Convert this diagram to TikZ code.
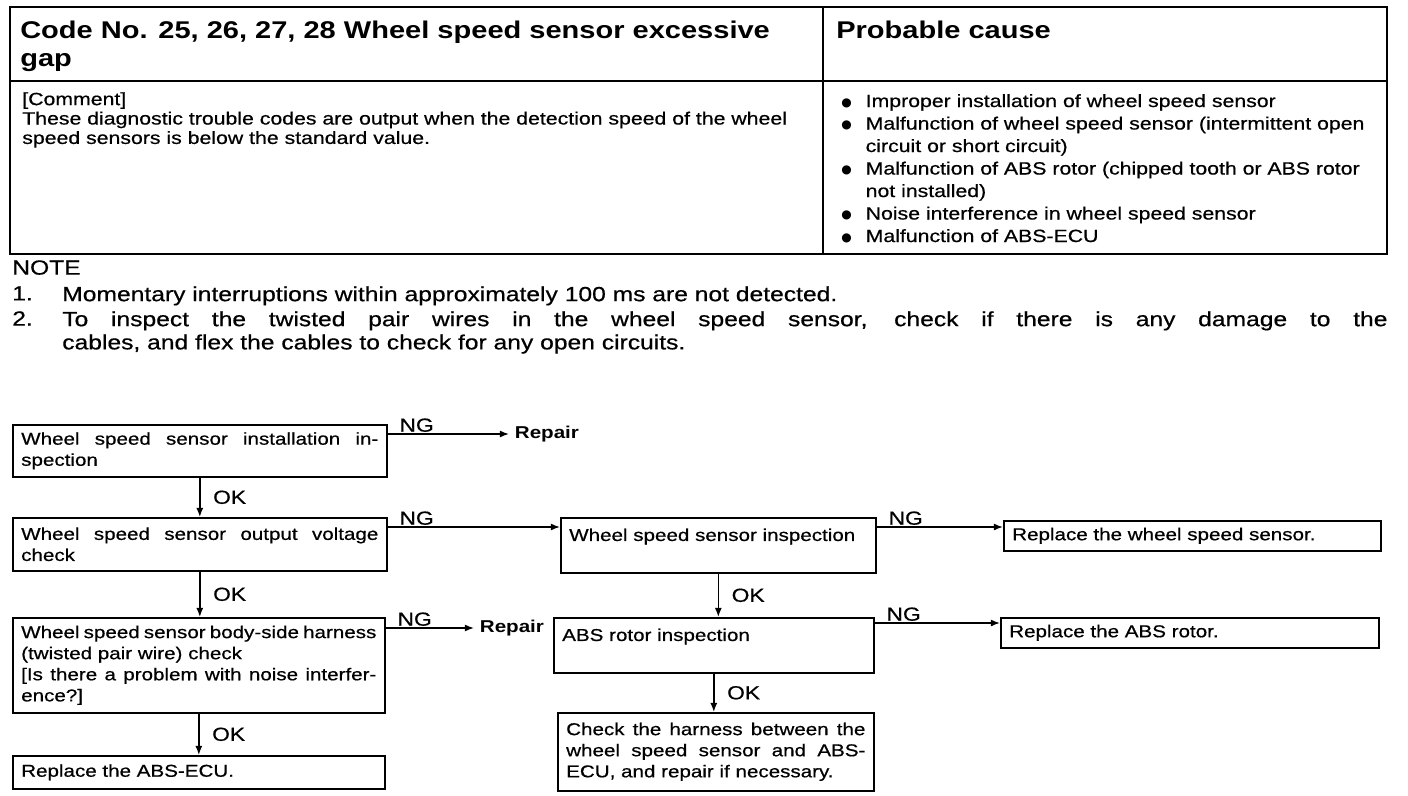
\documentclass[tikz,border=0pt]{standalone}
\usepackage{fontspec}
\setmainfont{Liberation Sans}[FakeStretch=1.2, UprightFeatures={FakeBold=0.6}]
\newfontfamily\dotfont{DejaVu Sans}
\usetikzlibrary{arrows.meta, calc}

\newcommand{\hdrfont}{\fontsize{17.2}{20}\selectfont\bfseries}
\newcommand{\cmtfont}{\fontsize{12.6}{13.8}\selectfont}
\newcommand{\causefont}{\fontsize{12.6}{16}\selectfont}
\newcommand{\notefont}{\fontsize{14.6}{16.5}\selectfont}
\newcommand{\flowfont}{\fontsize{12.2}{15}\selectfont}
\newcommand{\lblfont}{\fontsize{13.5}{15}\selectfont}
\newcommand{\blt}{\raisebox{0.6pt}{\dotfont\fontsize{8.5}{9}\selectfont ●}}

\begin{document}
\begin{tikzpicture}[
    x=0.025cm, y=-0.025cm,
    fbox/.style 2 args={rectangle, draw=black, line width=1.1pt, anchor=north west,
                align=justify, inner xsep=6pt, inner ysep=2pt,
                text width=#1, minimum height=#2, font=\flowfont},
    arr/.style={-{Latex[length=6.5pt, width=5pt]}, line width=1pt},
    lbl/.style={font=\lblfont, inner sep=1pt},
    rep/.style={font=\flowfont\bfseries, inner xsep=4pt, inner ysep=1pt, anchor=west},
    txt/.style={anchor=north west, inner sep=0pt, align=left}
  ]
    \useasboundingbox (0,0) rectangle (1408,796);

    % Table frame
    \draw[line width=1.8pt] (10,7) rectangle (1387,254);
    \draw[line width=1.1pt] (823,7) -- (823,254);
    \draw[line width=1.1pt] (10,81) -- (1387,81);

    % Table header
    \node[txt, font=\hdrfont] (code) at (20,21)
      {Code No. 25, 26, 27, 28 Wheel speed sensor excessive\\gap};
    \node[txt, font=\hdrfont] (cause) at (836,21) {Probable cause};

    % Comment
    \node[txt, font=\cmtfont] (comment) at (22,92)
      {[Comment]\\These diagnostic trouble codes are output when the detection speed of the wheel\\speed sensors is below the standard value.};

    % Probable causes
    \node[txt, font=\causefont] (causes) at (841,91) {\begin{tabular}{@{}p{0.61cm}@{}l@{}}
      \blt & Improper installation of wheel speed sensor\\
      \blt & Malfunction of wheel speed sensor (intermittent open\\
           & circuit or short circuit)\\
      \blt & Malfunction of ABS rotor (chipped tooth or ABS rotor\\
           & not installed)\\
      \blt & Noise interference in wheel speed sensor\\
      \blt & Malfunction of ABS-ECU
    \end{tabular}};

    % Note
    \node[txt, font=\notefont] (note) at (12,260) {NOTE};
    \node[txt, font=\notefont] (num1) at (12,286) {1.};
    \node[txt, font=\notefont] (note1) at (62,286)
      {Momentary interruptions within approximately 100 ms are not detected.};
    \node[txt, font=\notefont] (num2) at (12,311) {2.};
    \node[txt, font=\notefont, text width=942.5pt, align=justify] (note2) at (62,311)
      {To inspect the twisted pair wires in the wheel speed sensor, check if there is any damage to the\linebreak cables, and flex the cables to check for any open circuits.};

    % Left column
    \node[fbox={254pt}{1.3cm}] (inst) at (12,424)
      {Wheel speed sensor installation in-\linebreak spection};
    \node[rep] (rep1) at (509,434) {Repair};
    \node[fbox={254pt}{1.325cm}] (volt) at (12,517)
      {Wheel speed sensor output voltage\linebreak check};
    \node[fbox={252.6pt}{2.375cm}] (harness) at (12,617)
      {{\spaceskip=0.6pt plus 3pt Wheel speed sensor body-side harness}\linebreak
       (twisted pair wire) check\\{}[Is there a problem with noise interfer-\linebreak ence?]};
    \node[rep] (rep2) at (474,628) {Repair};
    \node[fbox={252.6pt}{0.825cm}] (ecu) at (12,755) {Replace the ABS-ECU.};

    % Middle column
    \node[fbox={212.1pt}{1.375cm}] (wss) at (560,517) {Wheel speed sensor inspection\\\mbox{}};
    \node[fbox={215.6pt}{1.375cm}] (rotor) at (553,617) {ABS rotor inspection\\\mbox{}};
    \node[fbox={212.8pt}{1.95cm}] (check) at (557,712)
      {Check the harness between the\linebreak wheel speed sensor and ABS-\linebreak ECU, and repair if necessary.};

    % Right column
    \node[fbox={256.2pt}{0.75cm}] (rplw) at (1003,520) {Replace the wheel speed sensor.};
    \node[fbox={256.9pt}{0.75cm}] (rplr) at (1000,617) {Replace the ABS rotor.};

    % Arrows
    \coordinate (ng2) at ([yshift=-0.25cm]volt.north east);
    \coordinate (ng3) at ([yshift=-0.25cm]wss.north east);
    \coordinate (ng5) at ([yshift=-0.15cm]rotor.north east);
    \draw[arr] (inst.east |- rep1.west) -- (rep1.west)
      node[lbl, pos=0, anchor=south west, xshift=7pt] {NG};
    \draw[arr] (inst) -- (volt) node[lbl, midway, right, xshift=8pt] {OK};
    \draw[arr] (ng2) -- (ng2 -| wss.west)
      node[lbl, pos=0, anchor=south west, xshift=7pt] {NG};
    \draw[arr] (ng3) -- (ng3 -| rplw.west)
      node[lbl, pos=0, anchor=south west, xshift=7pt] {NG};
    \draw[arr] (volt.south) -- (volt.south |- harness.north)
      node[lbl, midway, right, xshift=8pt] {OK};
    \draw[arr] (harness.east |- rep2.west) -- (rep2.west)
      node[lbl, pos=0, anchor=south west, xshift=7pt] {NG};
    \draw[arr] (harness) -- (ecu) node[lbl, midway, right, xshift=8pt] {OK};
    \draw[arr] (wss.south) -- (wss.south |- rotor.north)
      node[lbl, midway, right, xshift=8pt] {OK};
    \draw[arr] (ng5) -- (ng5 -| rplr.west)
      node[lbl, pos=0, anchor=south west, xshift=7pt] {NG};
    \draw[arr] (rotor.south) -- (rotor.south |- check.north)
      node[lbl, midway, right, xshift=8pt] {OK};

  \end{tikzpicture}
\end{document}
